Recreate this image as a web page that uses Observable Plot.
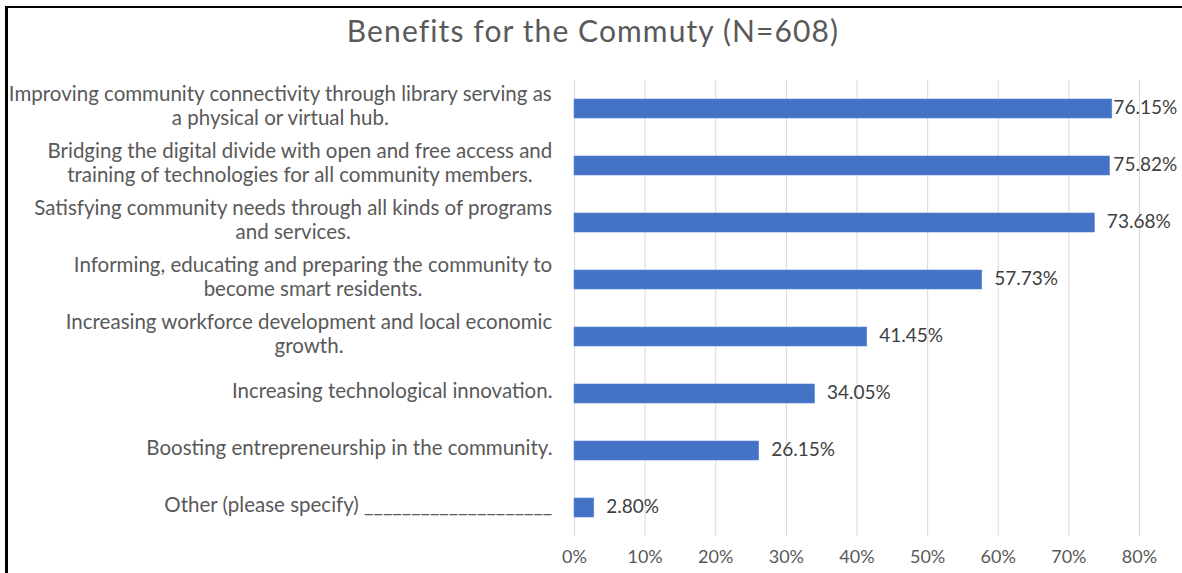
<!DOCTYPE html>
<html>
<head>
<meta charset="utf-8">
<script src="https://cdn.jsdelivr.net/npm/d3@7"></script>
<script src="https://cdn.jsdelivr.net/npm/@observablehq/plot@0.6"></script>
<style>
  html, body { margin: 0; padding: 0; background: #fff; }
  body { width: 1182px; height: 573px; overflow: hidden; position: relative; font-family: Lato, "Open Sans", sans-serif; }
  #frame { position: absolute; left: 5px; top: 6px; width: 1300px; height: 700px; border-top: 2px solid #000; border-left: 3px solid #000; box-sizing: border-box; }
  #title { position: absolute; top: 12px; left: 0; width: 1186px; text-align: center; font-size: 30px; letter-spacing: 1.1px; color: #595959; font-family: Lato, sans-serif; }
  #chart { position: absolute; left: 0; top: 0; }
</style>
</head>
<body>
<div id="frame"></div>
<div id="title">Benefits for the Commuty (N=608)</div>
<div id="chart"></div>
<script>
const categories = [
  "Improving community connectivity through library serving as\na physical or virtual hub.",
  "Bridging the digital divide with open and free access and\ntraining of technologies for all community members.",
  "Satisfying community needs through all kinds of programs\nand services.",
  "Informing, educating and preparing the community to\nbecome smart residents.",
  "Increasing workforce development and local economic\ngrowth.",
  "Increasing technological innovation.",
  "Boosting entrepreneurship in the community.",
  "Other (please specify) ____________________"
];
const values = [76.15, 75.82, 73.68, 57.73, 41.45, 34.05, 26.15, 2.80];
const xTicks = [0, 10, 20, 30, 40, 50, 60, 70, 80];

const data = categories.map((c, i) => ({label: c, value: values[i]}));

const labelFont = 20.5;
const canvas = document.createElement("canvas");
const ctx = canvas.getContext("2d");
ctx.font = `${labelFont}px Lato`;
const labelWidth = s => Math.max(...s.split("\n").map(l => ctx.measureText(l).width));

const labelMarks = categories.map(c => Plot.text([c], {
  y: d => d,
  text: d => d,
  frameAnchor: "left",
  textAnchor: "middle",
  dx: -(22 + labelWidth(c) / 2),
  dy: -4,
  lineHeight: 1.17,
  fontSize: labelFont,
  fill: "#595959"
}));

const chart = Plot.plot({
  width: 1182,
  height: 573,
  marginTop: 80,
  marginBottom: 37,
  marginLeft: 574,
  marginRight: 43,
  style: {fontFamily: "Lato, sans-serif", background: "transparent", overflow: "visible"},
  x: {domain: [0, 80], ticks: xTicks, axis: null},
  y: {domain: categories, paddingInner: 0.67, paddingOuter: 0.335, axis: null},
  marks: [
    Plot.ruleX(xTicks, {stroke: "#d9d9d9", strokeWidth: 1}),
    Plot.barX(data, {x: "value", y: "label", fill: "#4472C4", stroke: "#5a86d4", strokeWidth: 0.6}),
    Plot.text(data, {
      x: d => Math.min(d.value + 1.7, 76.3),
      y: "label",
      text: d => d.value.toFixed(2) + "%",
      textAnchor: "start",
      dy: -1,
      fontSize: 19,
      fill: "#404040"
    }),
    Plot.axisX({ticks: xTicks, tickFormat: d => d + "%", tickSize: 0, tickPadding: 14, fontSize: 18, color: "#595959", label: null}),
    ...labelMarks
  ]
});
document.getElementById("chart").appendChild(chart);
</script>
</body>
</html>
